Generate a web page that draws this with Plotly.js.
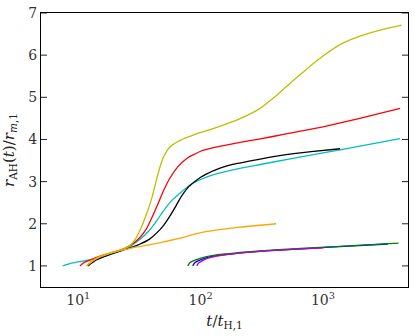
<!DOCTYPE html>
<html>
<head>
<meta charset="utf-8">
<script src="https://cdn.plot.ly/plotly-3.0.1.min.js"></script>
<style>
  html, body { margin: 0; padding: 0; background: #fff; }
  #chart { width: 416px; height: 336px; }
</style>
</head>
<body>
<div id="chart"></div>
<script>
// curves: t / t_H,1 and r_AH / r_m,1
const cyanT = [7.45, 9, 11.7, 14, 16, 20, 25, 28, 32, 38, 44, 50, 58, 68, 82, 100, 130, 200, 300, 540, 1000, 2000, 4270];
const cyanR = [1.0, 1.07, 1.13, 1.18, 1.22, 1.31, 1.42, 1.51, 1.63, 1.84, 2.08, 2.32, 2.55, 2.73, 2.92, 3.05, 3.17, 3.30, 3.40, 3.54, 3.68, 3.84, 4.02];

const redT = [10.3, 11, 12.5, 16, 20, 24, 28, 32, 36, 40, 44, 50, 56, 65, 77, 100, 130, 200, 300, 500, 1000, 2000, 4270];
const redR = [1.0, 1.07, 1.14, 1.26, 1.34, 1.42, 1.53, 1.68, 1.88, 2.15, 2.42, 2.8, 3.08, 3.35, 3.55, 3.72, 3.81, 3.92, 4.01, 4.13, 4.30, 4.50, 4.74];

const yellowT = [11.7, 13, 15, 18, 22, 26, 29, 32, 36, 40, 43, 46, 50, 56, 68, 90, 130, 197, 300, 400, 500, 600, 834, 1000, 1380, 2000, 3000, 4400];
const yellowR = [1.0, 1.12, 1.21, 1.29, 1.37, 1.47, 1.62, 1.85, 2.22, 2.62, 2.98, 3.3, 3.6, 3.82, 3.98, 4.12, 4.27, 4.46, 4.72, 5.0, 5.25, 5.45, 5.80, 5.98, 6.25, 6.45, 6.60, 6.71];

const blackT = [12, 14, 18, 23, 28, 32, 38, 44, 50, 56, 63, 70, 80, 93, 110, 144, 200, 300, 500, 800, 1380];
const blackR = [1.0, 1.14, 1.27, 1.37, 1.45, 1.52, 1.63, 1.79, 1.97, 2.18, 2.43, 2.66, 2.88, 3.04, 3.17, 3.32, 3.43, 3.53, 3.64, 3.71, 3.78];

const orangeT = [11.7, 13, 16, 20, 25, 30, 38, 50, 68, 105, 210, 414];
const orangeR = [1.0, 1.12, 1.26, 1.34, 1.40, 1.45, 1.50, 1.57, 1.66, 1.80, 1.92, 2.0];

const blueT = [86, 90, 95, 105, 127, 238, 400, 1254, 3390];
const blueR = [1.0, 1.08, 1.12, 1.17, 1.23, 1.32, 1.37, 1.45, 1.52];

const greenT = [78.3, 82, 87, 99, 127, 238, 400, 1254, 4140];
const greenR = [1.0, 1.08, 1.12, 1.18, 1.25, 1.33, 1.38, 1.46, 1.54];

const magentaT = [93, 97, 103, 112, 135, 238, 400, 1000];
const magentaR = [1.0, 1.08, 1.12, 1.17, 1.23, 1.32, 1.37, 1.43];

// axis ticks
const xMajor = [10, 100, 1000];
const xMajorText = ['10<sup>1</sup>', '10<sup>2</sup>', '10<sup>3</sup>'];
const xMinor = [6, 7, 8, 9, 20, 30, 40, 50, 60, 70, 80, 90, 200, 300, 400, 500, 600, 700, 800, 900, 2000, 3000, 4000];
const yTicks = [1, 2, 3, 4, 5, 6, 7];

function curve(x, y, color) {
  return {
    x: x, y: y, type: 'scatter', mode: 'lines',
    line: { color: color, width: 1.3, shape: 'spline', smoothing: 0.5 },
    hoverinfo: 'skip', showlegend: false
  };
}

const traces = [
  curve(cyanT, cyanR, '#00bfbf'),
  curve(blackT, blackR, '#000000'),
  curve(redT, redR, '#ff0000'),
  curve(yellowT, yellowR, '#bfbf00'),
  curve(orangeT, orangeR, '#ffa500'),
  curve(blueT, blueR, '#0000ff'),
  curve(greenT, greenR, '#008000'),
  curve(magentaT, magentaR, '#bf00bf')
];

const serif = 'DejaVu Serif';
const W = 416, H = 336;
const margin = { l: 41, r: 8, t: 13, b: 49 };
const plotW = W - margin.l - margin.r;
const plotH = H - margin.t - margin.b;

// tick marks drawn inside the frame on all four sides (lengths in pixels turned into paper fractions)
const tickLine = { color: '#222', width: 1 };
const shapes = [];
function xTick(v, len) {
  const f = len / plotH;
  const lx = Math.log10(v); // shapes on a log axis take log10 positions
  shapes.push({ type: 'line', xref: 'x', yref: 'paper', x0: lx, x1: lx, y0: 0, y1: f, line: tickLine, layer: 'above' });
  shapes.push({ type: 'line', xref: 'x', yref: 'paper', x0: lx, x1: lx, y0: 1, y1: 1 - f, line: tickLine, layer: 'above' });
}
function yTick(v, len) {
  const f = len / plotW;
  shapes.push({ type: 'line', xref: 'paper', yref: 'y', x0: 0, x1: f, y0: v, y1: v, line: tickLine, layer: 'above' });
  shapes.push({ type: 'line', xref: 'paper', yref: 'y', x0: 1, x1: 1 - f, y0: v, y1: v, line: tickLine, layer: 'above' });
}
xMajor.forEach(v => xTick(v, 6));
xMinor.forEach(v => xTick(v, 3));
yTicks.forEach(v => yTick(v, 6));

const layout = {
  width: W, height: H,
  margin: margin,
  font: { family: serif, size: 14, color: '#333' },
  shapes: shapes,
  xaxis: {
    type: 'log', range: [0.695, 3.695],
    tickmode: 'array', tickvals: xMajor, ticktext: xMajorText, ticks: '',
    showline: true, linecolor: '#000', linewidth: 1, mirror: true,
    showgrid: false, zeroline: false,
    tickfont: { family: serif, size: 14, color: '#333' },
    title: { text: '<i>t</i>/<i>t</i><sub>H,1</sub>', font: { family: serif, size: 15, color: '#222' }, standoff: 8 }
  },
  yaxis: {
    range: [0.5, 7], tickmode: 'array', tickvals: yTicks, ticks: '',
    showline: true, linecolor: '#000', linewidth: 1, mirror: true,
    showgrid: false, zeroline: false,
    tickfont: { family: serif, size: 14, color: '#333' },
    title: { text: '<i>r</i><sub>AH</sub>(<i>t</i>)/<i>r</i><sub><i>m</i>,1</sub>', font: { family: serif, size: 15, color: '#222' }, standoff: 12 }
  }
};

Plotly.newPlot('chart', traces, layout, { displayModeBar: false });
</script>
</body>
</html>
